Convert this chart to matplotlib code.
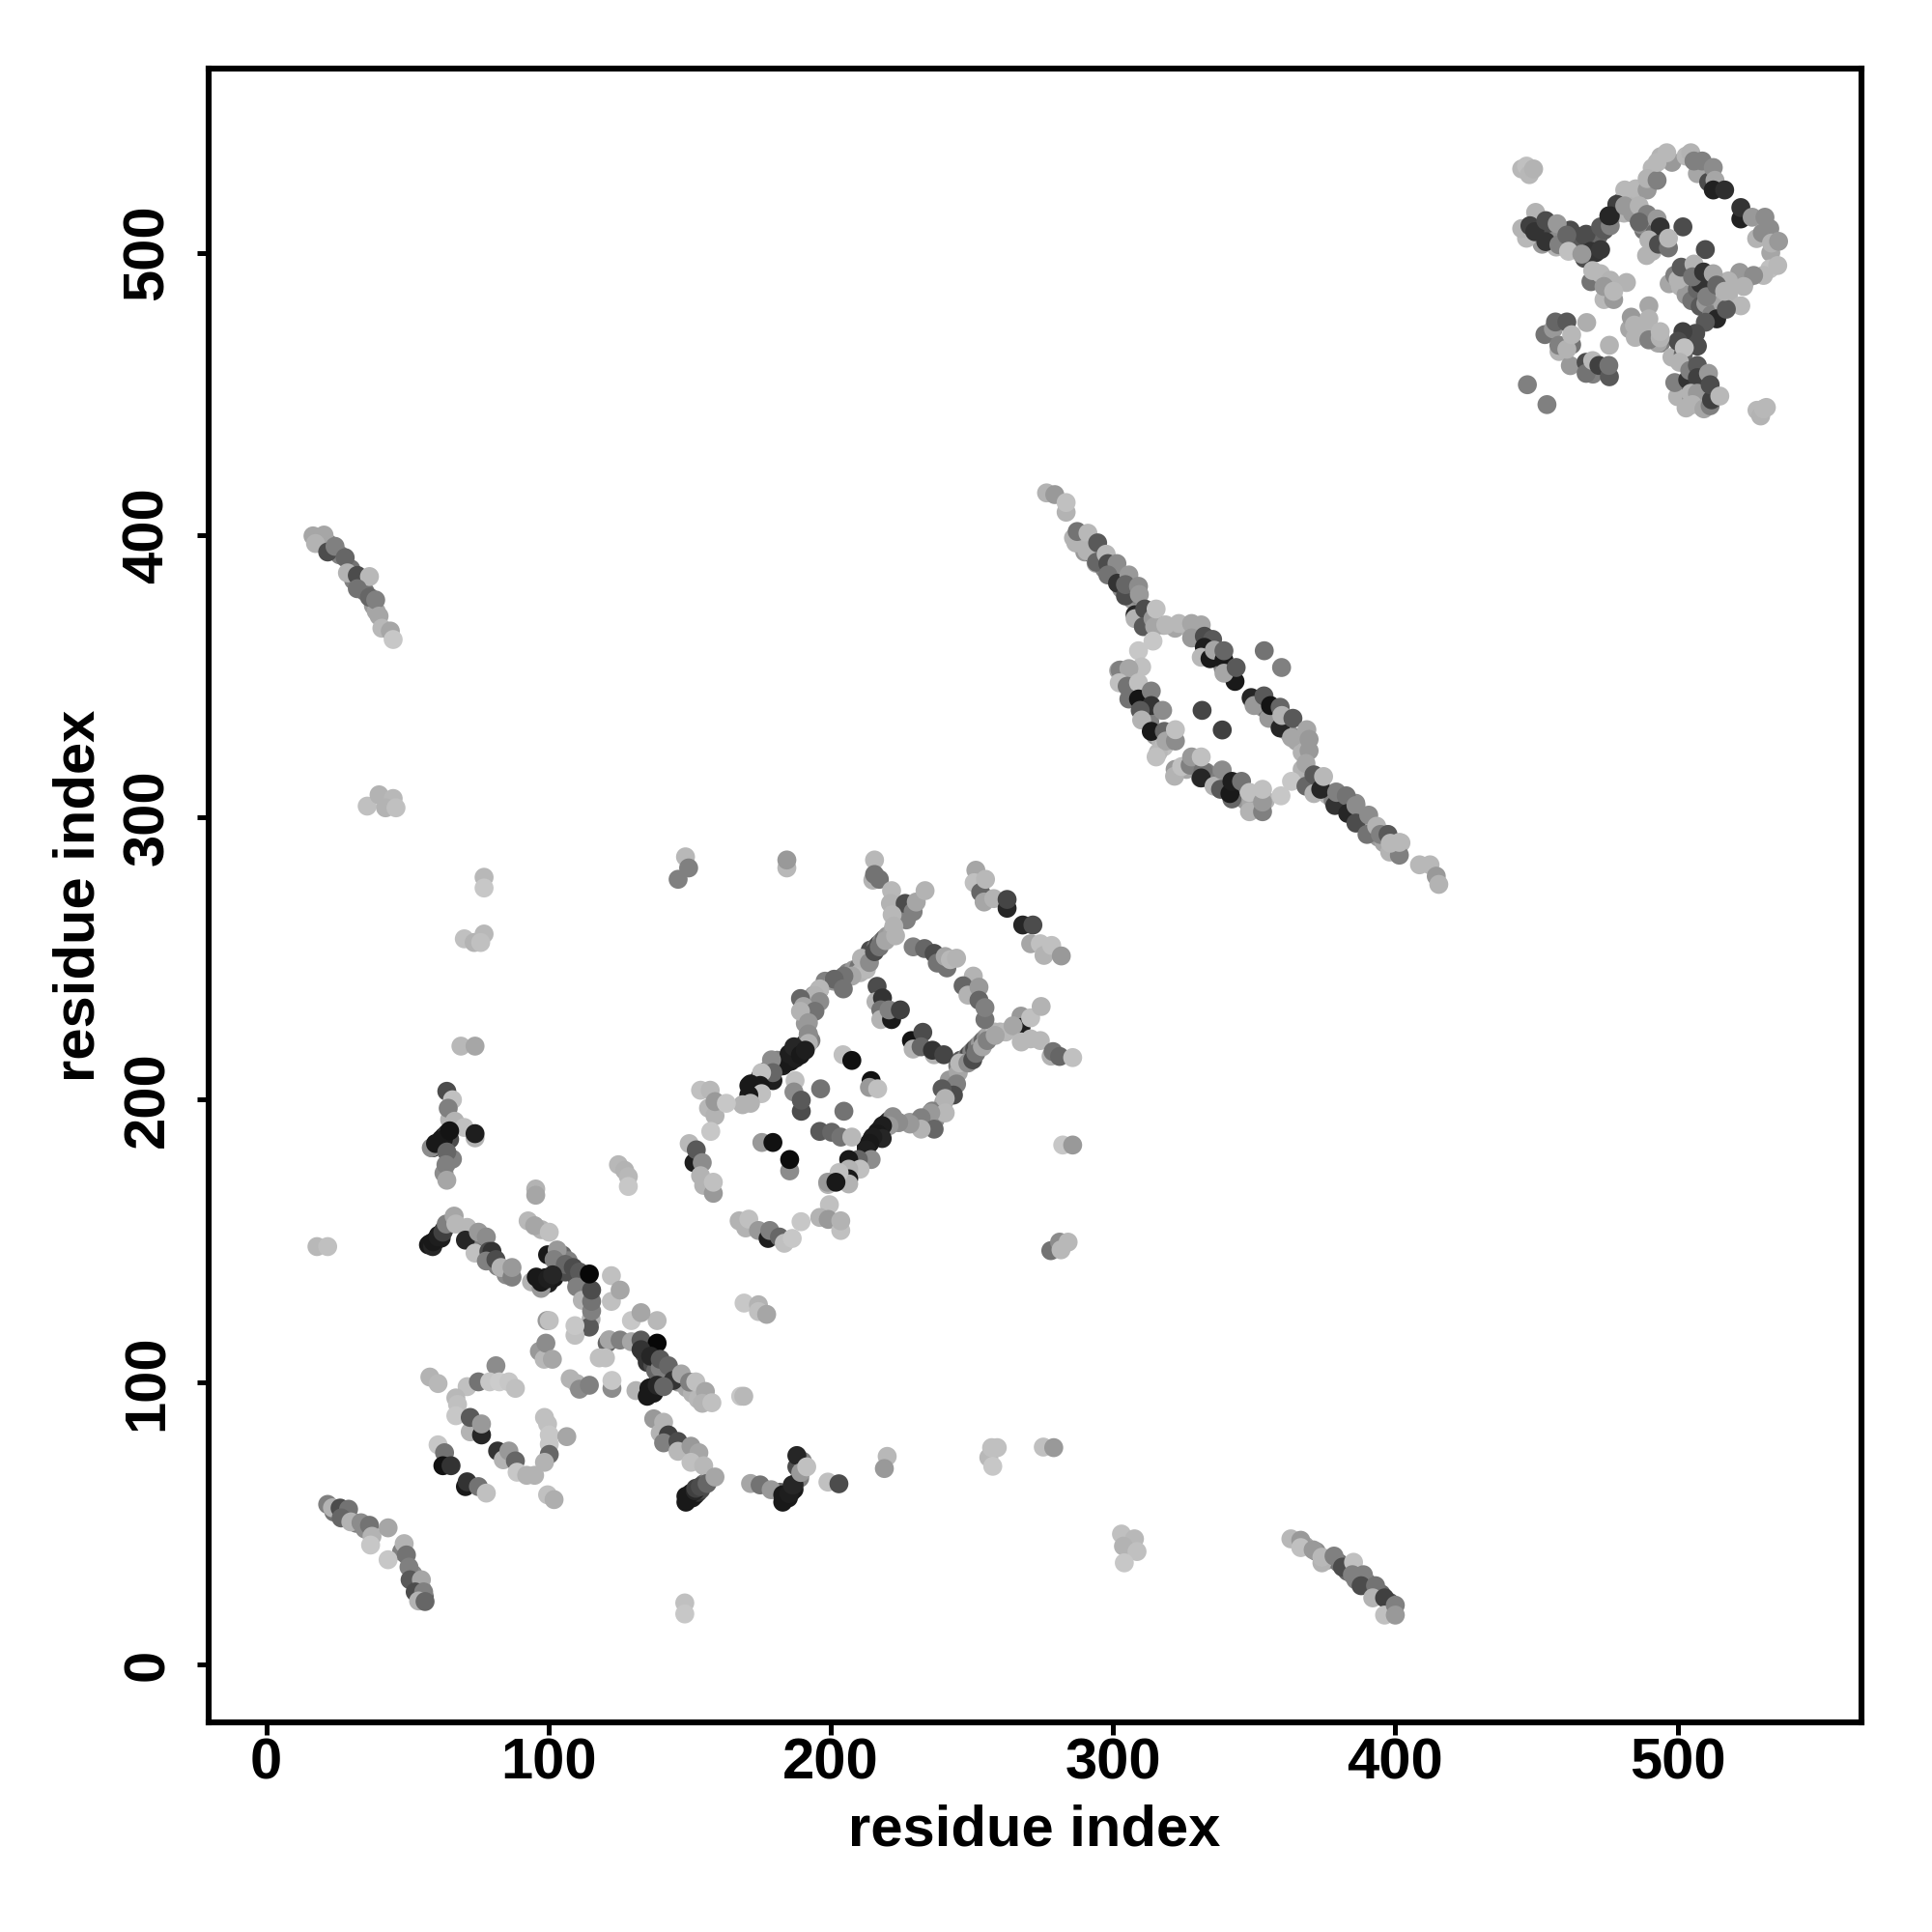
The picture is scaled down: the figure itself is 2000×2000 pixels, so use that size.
import matplotlib
matplotlib.use("Agg")
import matplotlib.pyplot as plt
import numpy as np

# (x, y, grey), cluster by cluster

domain3 = [
    (441.8,530,.72),(443.5,531,.75),(444.5,528,.72),(446,530,.7),
    (443.5,505.6,.72),(441.8,509,.7),(446.7,514.7,.7),(444.7,510,.25),(446.4,507.9,.2),
    (450.3,511.8,.3),(450.3,504.4,.2),(454.3,510.7,.6),(454.9,503.3,.5),(457.7,506.7,.4),
    (458.3,501,.75),(464.5,507,.3),(469.6,509.6,.35),(473,510,.5),(472.5,513.5,.15),
    (466.2,501,.2),(469.6,501.6,.22),(463,500,.6),
    (478.1,522.6,.72),(482,523,.72),(486,522.6,.6),(486,526.6,.7),(489.5,526,.5),
    (489.5,532.3,.72),(492.9,535.7,.72),(499.7,534.5,.72),(501.4,535.7,.7),(502.5,532.8,.5),
    (505.4,532.8,.5),(509.3,530.5,.55),(509.9,526,.65),(509.3,522.6,.13),(513.3,522.6,.18),
    (519,512.4,.13),(519,516.4,.2),(523,513,.6),(527.5,513,.55),(529.2,509,.55),
    (529.8,503.9,.7),(532.3,504.5,.6),(529.2,494.8,.75),(532,496,.72),(527,492.5,.72),
    (523.5,492.5,.55),(520,488.6,.7),(519,481.8,.72),(510.5,477.2,.15),(513.9,480.6,.35),
    (506.5,476,.35),(503.1,472.1,.3),(503.7,467.6,.3),(498.6,472.7,.25),(496.9,469.3,.3),
    (499.1,467,.75),
    (498.6,509.6,.3),(506.5,501.6,.3),
    (496.9,491,.7),(498,495.4,.35),(502.5,496.5,.7),(504.8,489.7,.2),(502,492,.45),
    (505.9,493.7,.2),(509.3,493.1,.65),(507,485,.5),(510.5,489.1,.4),(513.3,486.9,.7),
    (475.3,517.5,.25),(473,513.5,.15),(478.1,517,.6),(483.2,517,.7),(486,514,.5),
    (483.2,511.3,.4),(489.5,512.4,.6),(490.6,509.6,.2),(486.6,505,.7),(487.8,501,.7),
    (490,503.5,.3),(493.5,502.2,.45),(493.5,505.6,.72),
    (466.2,490.3,.45),(466.8,494.2,.72),(469.6,493.1,.72),(473,490.8,.7),(478.7,490,.7),
    (470.8,484,.72),(474.2,484,.6),(470.8,488.6,.6),(474.2,486.9,.72),
    (480.4,477.8,.6),(481.5,475,.7),(486.6,481.8,.65),(486.6,477.2,.7),(486.6,469.8,.5),
    (490.6,470.5,.7),(490.6,472.7,.72),
    (453.7,476.1,.4),(457.7,476.1,.35),(464.7,475.9,.68),(454.9,467.9,.5),(459.4,468.1,.45),
    (457.7,466.5,.7),(459.4,471.6,.72),(472.7,467.9,.7),
    (464.5,461.9,.3),(464.5,458,.45),(466.8,462.5,.72),(469,460.8,.25),(472.7,456.8,.35),
    (472.5,460.8,.45),
    (497.4,461.9,.7),(500.3,455.7,.2),(501,459,.5),(503.7,460.8,.35),(503.7,456.5,.25),
    (507.6,458,.6),(501.4,451,.7),(503.7,451,.6),(502,447,.7),(506,445.5,.65),
    (508.2,446.6,.5),(508.7,448.7,.25),(508.2,454,.3),(511.6,450,.72),
    (443.8,454,.5),(450.7,447,.5),
    (524.7,445,.72),(526,443,.7),(527,445.5,.72),(528,446,.72),
]

domain2 = [
    (274.4,415.9,.7),(277.3,415.3,.6),(281.3,409.1,.7),(281.3,412.5,.75),
    (284.7,398.3,.7),(285.2,402.3,.45),(289,401.7,.72),(288.6,395.5,.7),(292.4,398.3,.35),
    (292,391.5,.4),(295.4,394.3,.72),(296,391,.3),(299.2,391,.55),(296,387,.45),
    (299.4,384.1,.2),(303.4,387,.6),(302.2,379.6,.3),(302.2,383.6,.4),(306.8,383,.55),
    (307.1,380.1,.6),(305.6,373,.15),(305.6,371.6,.7),(309,375,.3),(308.5,368.8,.35),
    (311.9,371.6,.6),(312.5,368.8,.65),(313,375,.75),(316.4,369.4,.72),(321,369.9,.72),
    (325.5,369.9,.65),(328.9,369.4,.65),(325.5,364.8,.6),(330,365.4,.3),(332.9,364.3,.35),
    (330,361.5,.12),(328.9,358,.72),(332,357.5,.1),(333.5,360.5,.65),(336.9,357,.1),
    (336.9,360.3,.4),(340.8,349.5,.1),(336.9,352.4,.65),(341.2,354.4,.35),
    (351.1,360.3,.45),(357.2,354.4,.5),(329.2,339.3,.27),(336.3,332.4,.25),
    (346.5,343.8,.15),(347.5,341,.6),(351,344.4,.35),(352.7,336.5,.6),(353.3,341,.08),
    (356.7,333.1,.15),(356.7,340.4,.4),(357.3,337.5,.7),(361.2,336.5,.35),(360.7,329.7,.65),
    (366.1,332.5,.65),(366.9,329.1,.6),(366.9,325.1,.6),(365.8,320.6,.65),
    (311.9,363.7,.78),(306.8,360.3,.78),(307.9,354.6,.75),(300.3,353.5,.5),(303.4,354,.65),
    (300,349,.75),(302.8,347.8,.45),(306.8,349,.75),(303.4,343.3,.45),(306.8,343.3,.08),
    (311.3,346.1,.5),(311.3,341,.2),(307.4,339.3,.35),(307.9,335.9,.7),(315.3,339.3,.55),
    (311.3,331.9,.1),(315.9,331.9,.4),(316.5,328.5,.65),(319.8,328.5,.55),(319.8,332.5,.75),
    (313,322.9,.75),(319.5,316.1,.7),(322,319.5,.75),(325,320,.5),(325.5,322.9,.6),
    (329.5,318,.45),(328.9,315.5,.15),(328.9,322.9,.75),(333.4,312.6,.7),(336.3,318.3,.55),
    (335.7,311.5,.35),(339.7,308.1,.4),(339,310,.1),(339.7,314.3,.12),(343.1,314.3,.45),
    (345.9,303.6,.7),(345.9,310.4,.75),(350.5,303.6,.5),(350.5,307,.6),(350.5,311.5,.75),
    (357,309.2,.78),(360.7,314.3,.78),
    (365.8,312.6,.4),(368.6,316.6,.35),(368.6,310,.7),(371,311.5,.15),(372,316,.72),
    (376,305.8,.2),(376.6,310.4,.5),(380,309.2,.45),(380.5,303,.15),(383.4,305.8,.55),
    (383.4,299.6,.3),(387.9,302.4,.55),(387.3,295.6,.45),(390.7,298.5,.7),(392,295.6,.5),
    (394.7,295.6,.35),(395.3,289.4,.7),(398.7,288.3,.5),(395.5,292.5,.72),(398.7,292.8,.72),
    (405.8,284.9,.72),(409.5,284.9,.72),(411.7,280.9,.6),(412.6,278,.7),
]

domain1 = [
    (147.2,287.7,.72),(148.3,283.8,.5),(144.6,279.8,.5),
    (182.9,283.8,.72),(182.9,286.6,.6),
    (213.8,286.6,.72),(213.2,279.5,.7),(213.8,281.5,.45),(215.5,279.8,.45),
    (219.8,275.8,.72),(219.4,271.3,.7),(224,267.3,.2),(225,265.5,.5),(224.6,271.3,.3),
    (227.4,268.4,.5),(228.5,271.8,.65),(231.6,275.8,.7),(220,267.3,.72),(220.6,263.3,.7),
    (208.7,246.9,.7),(210.9,248,.72),(209.2,252,.7),(212,250.5,.55),(213.8,254.3,.3),
    (215.5,256,.45),(217.7,258.2,.65),(221.2,259.9,.7),
    (205.8,245.7,.65),(203,245.7,.45),(199.6,244.6,.4),(202.8,241.2,.45),(194.5,241.2,.72),
    (192.8,238.9,.7),(194.5,236.7,.55),(187.7,237.8,.4),(188.8,235,.65),(192.8,233.3,.45),
    (187.7,233.3,.7),(190.5,229.3,.6),(190.5,225.3,.55),(190.5,222,.7),
    (182.6,215.1,.1),(184.3,215.7,.1),(186,216.8,.12),(183.7,218.3,.12),(185.4,220.8,.15),
    (187.7,217.9,.1),(189.4,219.6,.12),
    (177.5,216.2,.55),(178,208.9,.12),(178,211.7,.4),(174,211.7,.75),(173.5,207.2,.1),
    (170.1,207.7,.1),(174,204.3,.75),(169.5,203.8,.1),(170.1,200.9,.7),(167.3,200.4,.7),
    (185.8,208.9,.75),(185.4,204.9,.55),(188,198.1,.3),(188,202,.35),
    (152.5,205.5,.75),(155.9,205.5,.72),(155.3,199.2,.72),(157.6,196.5,.7),(157.6,201.5,.6),
    (161.6,200.9,.78),
    (156.1,191,.78),(148.5,186.7,.72),(150.2,180,.12),(151,184.5,.35),(153.1,180,.55),
    (152.5,175.4,.7),(153.6,172,.7),(157,169.2,.6),(157,173.1,.75),
    (202.7,218,.75),(205.8,216,.07),(212.6,208.9,.07),(212,206.5,.6),(214.9,206,.75),
    (194.8,206,.45),(203,198.1,.45),(174.1,187.1,.6),(178,187.1,.07),
    (183.9,177.1,.55),(183.9,181.1,.05),
    (194.5,191,.35),(198.7,190.7,.4),(201.9,189,.45),(205.8,189,.72),
    (214.7,242.1,.3),(214.3,236.7,.7),(216.6,238,.2),(216,233.8,.45),(216,230.4,.7),
    (219.8,230.4,.1),(218.9,233.8,.5),(222.9,233.8,.25),
    (226.8,223,.08),(227.4,220,.7),(230.8,225.9,.3),(230.2,220.8,.4),(234.8,218,.7),
    (234.2,219.6,.2),(238.2,218,.27),
    (227.4,256,.5),(231.4,255.4,.4),(234.8,253.7,.3),(235.9,250.3,.45),(239.3,248.6,.45),
    (238.7,252.6,.65),(240.5,251.5,.72),(242.7,252,.7),
    (248.6,245.7,.7),(245,242.3,.4),(246.7,239,.7),(250.6,241.8,.6),(250.6,237.2,.4),
    (252.7,230.4,.45),(252.7,234.6,.5),
    (249.5,283,.65),(248.9,278.6,.75),(251.2,275.2,.4),(252.9,279.8,.72),(252.4,271.8,.65),
    (255.8,273,.7),(260.5,269.6,.15),(260.5,272.7,.27),(266,263.7,.15),(269.6,263.7,.3),
    (268.8,257.1,.65),(272.2,257.1,.75),(273.5,253,.7),(276.2,256.5,.75),(279.6,252.8,.6),
    (265.4,231.6,.6),(265.4,227.6,.12),(262.6,228.2,.65),(268.8,231,.75),(272.5,235,.7),
    (265.5,222.5,.72),(268.8,223.6,.72),(272.2,223,.72),(276,217.5,.7),(276.7,219.1,.45),
    (279,217.4,.4),(283.6,217,.75),
    (243.3,211.7,.65),(243.8,215.1,.72),(246.7,215.1,.55),(248.4,216.2,.3),(249.5,218.5,.45),
    (251.8,220.8,.65),(253.5,223,.5),(256.3,224.8,.65),
    (242.7,207.7,.5),(241.6,203.8,.3),(237.6,206,.35),(238.7,202.6,.7),(238.7,197.5,.72),
    (233.6,197.5,.6),(230.2,195.8,.5),(234.8,191.8,.4),(230.2,191.8,.7),(226.3,193.6,.6),
    (222.3,194.1,.55),
    (218.9,193,.6),(216.6,193,.12),(214.9,190.1,.1),(216.5,188.5,.15),(213.2,189,.12),
    (212.1,186.8,.1),(210.9,184.5,.12),(212.6,181.1,.55),(208.1,181.1,.4),(204.7,181.1,.1),
    (208.7,177.7,.75),(204.7,177.7,.7),(204.7,174.3,.1),(204.7,172.5,.7),(201.3,176.5,.75),
    (197.3,173.1,.6),(200.2,173.1,.1),
    (197.9,165.2,.75),(194.5,160.7,.7),(197.5,160,.6),(201.9,156.1,.75),(201.9,159.5,.7),
    (187.9,159.2,.78),
    (166.1,159.5,.7),(168.4,157,.7),(169.5,160.1,.75),(172.9,156.1,.6),(176.3,153.3,.12),
    (176.9,156.1,.5),(180.3,153.8,.4),(182,151.6,.75),(184.8,153.3,.78),
    (280.1,186.2,.78),(283.6,186.2,.6),
    (275.9,149,.45),(279,152,.55),(282,152,.72),(279.5,149.3,.72),
]

# read on the true tick scale
loop_left = [
    (58,101.8,.7),(60.9,99.5,.72),
    (57.5,148.6,.1),(59,148,.15),(59.2,149.7,.1),(60.9,151.4,.12),(62.6,153.1,.25),
    (63.8,156,.5),(66.6,158.8,.65),(67.2,156,.72),(71.2,154.8,.72),(70.6,150.3,.15),
    (75.2,153.1,.6),(74,145.7,.75),(78,151.4,.55),(78.9,146.3,.3),(80,146.3,.2),
    (78,142.9,.5),(81.4,143.4,.3),(83.2,140.6,.7),(87.1,137.2,.5),(87.1,140.6,.6),
    (92.8,157.1,.72),(97.5,154,.7),(95.1,155.4,.65),(100.3,153.1,.75),(99.7,145.1,.1),
    (103.1,146.8,.6),(102,143.4,.5),(106,141.7,.4),(108.8,140.6,.3),(111,139,.35),
    (94,135.5,.7),(97.4,133.2,.6),(95.7,137.2,.1),(97.4,135.4,.1),(99.7,136.6,.12),
    (101.5,138,.15),
    (110,133.7,.5),(112,129,.7),(115.1,122.3,.7),(114.5,119.5,.35),(115.3,125.2,.5),
    (115.3,128.6,.45),(115.3,132.6,.3),(114.5,138.3,.03),
    (122.3,128.6,.75),(122.3,137.7,.75),(125.4,132.6,.65),
    (129.4,121.8,.78),(138.5,121.8,.72),(132.8,124.6,.65),
    (169.3,128,.78),(174.4,127.4,.7),(174.4,125,.75),(177.3,124,.65),
    (99.5,121.8,.6),(100.3,121.8,.75),(109.4,116.6,.75),(109.4,120,.78),
    (120.8,113.8,.4),(121.5,115,.65),(125.4,114.9,.5),(129.4,114.3,.65),(132.8,114.9,.35),
    (138.5,113.8,.03),(118,108.6,.75),(120.2,108.6,.75),
    (132.8,111.5,.2),(136.2,109.2,.15),(139.6,105,.5),(139.6,108.1,.35),(142.5,105.8,.4),
    (144.2,100.6,.2),(147.1,102.9,.65),(150,100,.5),(152.2,100.1,.75),(155.6,96.7,.65),
    (154.5,92.5,.7),(157.9,92.7,.75),
    (131,97,.7),(135,95,.1),(135.6,97.8,.1),(137.3,96.1,.1),(138.5,98.9,.15),(140.8,98.4,.4),
    (168.1,95,.78),(169.2,95,.72),
    (122.5,97.8,.55),(122.5,100.6,.78),
    (96.8,110.9,.6),(98.5,108.1,.72),(99.1,113.8,.55),(101.4,108.1,.65),
    (81.4,105.8,.55),(71.2,98.4,.75),(75.2,100.1,.45),(79.2,100.1,.78),(82.6,100.1,.8),
    (86,100.1,.78),(88.3,97.8,.75),
    (107.7,101.2,.7),(110,99.5,.7),(111,97.5,.55),(114.5,98.9,.5),
    (67.2,94.4,.72),(67.8,92.1,.75),(67.2,88.1,.78),(72.3,82.4,.7),(76.3,81.3,.15),
    (72.3,87.5,.35),(76.3,85.2,.6),
    (98.6,87.5,.75),(99.7,85.2,.75),(100.3,81.3,.78),(106.5,80.7,.65),(100.3,78,.78),
    (100.3,74.4,.4),(98.6,71.6,.7),
    (82,75.6,.2),(84,72.5,.7),(86,75.6,.6),(88.3,72.1,.4),(88.9,68.1,.78),(92.3,67,.7),
    (95.1,67,.7),
    (60.9,77.8,.78),(63.2,75,.45),(62.6,70.4,.07),(65.5,70.4,.2),
    (70.6,63,.1),(71.2,64.7,.2),(75.2,63,.45),(78,60.7,.75),
    (99.7,60.1,.75),(102,58.4,.68),
    (137.3,87,.6),(140.8,85.8,.7),(139.6,82,.7),(142.5,81.3,.25),(140.8,78.5,.5),
    (145.9,79,.3),(145.9,75.5,.72),(150.5,77.3,.6),(153.3,75,.65),(150.5,71.6,.75),
    (155,70.4,.72),
    (148.7,57.5,.1),(148.7,59.6,.1),(150.5,60.7,.1),(152,61.5,.15),(152.2,62.4,.25),
    (153.8,63,.3),(156.2,64.1,.4),(159,66.4,.65),
    (171.6,64.1,.65),(175,63.6,.45),(178.9,61.9,.6),(183,57.5,.1),(183,60.1,.1),
    (185.2,60.5,.12),(187,63.7,.15),(186.4,63.6,.15),(188,74,.15),(189.4,68,.6),
    (191.5,70,.75),(199,64.6,.75),(202.9,64,.3),
    (220,73.7,.72),(219,69.4,.6),
    (256,73.3,.72),(257,76.8,.75),(259,76.8,.75),(257.4,70.2,.78),
    (275.3,77,.75),(279,76.8,.6),
    (303,46.2,.75),(307.6,44.5,.72),(303.7,41.9,.7),(308.5,40,.75),(304,36,.78),
    (148.3,21.8,.75),(148.3,17.9,.78),
]

arc_lower_left = [
    (21.8,56.7,.5),(23.5,55.5,.7),(26.2,55.4,.3),(29.2,55,.45),(26.6,51.9,.4),(30,50.5,.7),
    (33.6,50.2,.55),(36.6,49.3,.45),(37.5,45.4,.7),(43.2,48.4,.65),(37,42.3,.78),(43.2,37.1,.78),
    (48.9,42.8,.7),(49.7,38.8,.45),(50.6,34.5,.5),(51,30,.35),(55,30,.65),(52.8,25.7,.3),
    (55.8,25.7,.5),(54,22.5,.7),(56.3,22.3,.4),
]

arc_upper_left = [
    (16.6,399.7,.65),(20.5,400,.65),(17.5,397,.7),(21.8,394,.3),(24.4,396,.5),(28,392,.4),
    (28.8,386.6,.7),(32.3,385.7,.3),(36.6,385.3,.72),(32.3,381,.45),(36.6,378,.4),(38.8,377,.5),
    (40,371.3,.65),(41,367,.72),(44,366,.65),(45,363,.78),
]

scattered_left = [
    (35.8,304,.75),(40,308,.7),(45,306.7,.72),(42.3,303.4,.7),(46,303.4,.75),
    (77.2,278.8,.72),(77.2,275,.78),
    (70.2,257,.75),(73.7,255.7,.7),(77.2,258.7,.72),(76,255.7,.75),
    (69,219,.72),(74,219,.65),
    (64,203,.3),(66,200,.75),(64.5,197,.5),(66.8,192.4,.7),(70.2,190.2,.75),
    (74,186.5,.7),(74,188,.12),(58.5,183,.55),(60,184.5,.1),(62.8,186,.1),(65,189,.08),
    (64,181.5,.4),(63.7,177,.5),(64,171.5,.65),
    (18,148,.72),(21.8,148,.75),
    (95.5,168.4,.7),(95.5,166.2,.65),
    (124.8,177,.72),(127,175,.7),(128.3,172.8,.72),(128.3,169.3,.78),
]

arc_lower_right = [
    (363,44.5,.72),(366.5,44,.6),(366.5,41.4,.75),(370.9,40.6,.6),(374,36,.7),(374,38,.72),
    (378.3,38.4,.5),(381.3,34.5,.3),(385.2,36.2,.75),(384.8,31.8,.5),(388.7,31.8,.5),
    (387.9,27.9,.3),(393,27.9,.45),(392,23.6,.7),(396.2,23.6,.25),(396.2,17.5,.75),
    (400,21,.5),(400,17.5,.6),
]

# the overplotted bands, drawn first so the lists above sit on them
bands_domain2 = [
    (286,399,.7),(288,397,.5),(290,394,.6),(291,396,.7),(293,393,.45),(294,390,.65),(296,393,.55),
    (297,388,.5),(299,387,.6),(300,389,.55),(301,385,.5),(303,381,.55),(304,384,.6),(305,379,.45),
    (307,377,.6),(308,379,.5),(309,372,.7),(311,373,.55),(313,368,.6),
    (372,312,.6),(374,310,.5),(376,308,.7),(378,306,.5),(379,309,.55),(381,305,.4),(383,303,.6),
    (385,302,.5),(386,305,.55),(388,299,.6),(390,297,.5),(392,296,.7),(394,293,.6),(396,291,.65),
    (397,294,.7),(399,289,.6),(401,288,.7),(402,291,.72),
    (331,363,.45),(333,361,.5),(335,358,.35),(337,356,.6),(339,353,.5),(341,351,.55),
    (349,342,.5),(351,340,.4),(353,339,.6),(355,337,.45),(357,335,.55),(359,333,.4),(361,331,.6),
    (363,329,.55),(365,327,.65),(367,323,.7),(367,317,.7),
    (302,352,.65),(304,350,.6),(306,346,.55),(308,344,.4),(309,341,.5),(310,338,.45),(312,336,.6),
    (313,334,.5),(315,329,.6),(317,327,.7),(318,325,.75),(316,323,.72),
    (322,317,.6),(326,317,.65),(331,314,.55),(333,316,.5),(336,313,.5),(338,311,.55),(341,309,.45),
    (343,307,.5),(344,311,.6),(347,306,.6),(349,305,.65),(352,303,.72),(354,306,.7),
    (318,368,.7),(322,367,.65),(327,367,.7),
]

bands_domain3 = [
    (447,506,.6),(449,508,.4),(451,507,.65),(452,503,.6),(453,506,.3),(456,504,.55),(457,502,.7),
    (460,503,.72),(462,504,.4),(462,508,.3),(465,503,.35),(467,506,.3),(467,498,.3),(470,503,.25),
    (472,506,.4),(474,508,.35),(471,500,.2),(476,513,.4),(478,514,.55),(480,518,.5),(481,514,.7),
    (484,514,.6),(488,508,.45),(487,510,.55),(492,507,.4),(491,503,.55),(489,499,.7),
    (497,489,.65),(499,492,.5),(501,488,.7),(503,485,.6),(505,483,.45),(507,487,.4),(508,481,.35),
    (510,482,.6),(512,478,.5),(516,482,.65),(518,485,.7),(524,490,.7),
    (494,468,.5),(498,463,.7),(502,464,.4),(500,449,.7),(504,454,.3),(505,448,.5),(506,450,.25),
    (509,445,.65),(503,445,.7),(499,454,.5),(511,447,.5),
    (483,473,.65),(485,470,.7),(488,473,.7),(493,468,.65),
    (453,471,.45),(456,473,.6),(458,465,.7),(462,460,.6),(468,458,.6),(470,457,.5),
    (484,520,.7),(491,530,.72),(494,534,.7),(498,532,.6),(507,528,.65),(511,525,.3),
    (528,505,.7),(530,507,.55),(533,500,.65),(522,493,.6),(518,490,.7),
]

bands_domain1 = [
    (183,212,.12),(184,213,.15),(185,214,.1),(186,215,.12),(187,216,.1),(188,217,.1),(189,218,.12),
    (190,219,.1),(191,220,.15),(192,221,.4),
    (212.6,183.4,.1),(213.5,184.5,.1),(214.5,186,.12),(215.5,187,.1),(216.5,188.5,.1),
    (217.5,189.5,.12),(218.5,190.5,.1),(219.5,191.5,.12),(220.6,192.5,.15),(222,194,.55),
    (206,245,.5),(208,246,.6),(210,247,.45),(212,249,.35),(213,251,.5),(214,253,.3),(216,254,.45),
    (217,255,.3),(218,256,.55),(219,257,.4),(220,258,.6),(222,260,.65),(198,242,.5),(201,242,.6),
    (196,239,.55),(194,237,.6),(192,232,.6),(191,227,.6),(192,223,.55),(193,221,.5),
    (245,212,.5),(246,214,.35),(248,215,.55),(249,216,.3),(250,217,.5),(251,218,.3),(252,219,.45),
    (253,220,.6),(254,221,.4),(255,222,.55),(256,223,.65),(258,224,.7),(260,224,.7),(262,224,.72),
    (242,207,.6),(243,204,.5),(241,201,.4),(240,199,.65),(236,196,.5),(237,193,.55),(232,192,.45),
    (228,192,.6),(224,192,.55),
    (206,175,.1),(204,172,.65),(201,171,.1),(199,170,.7),(207,178,.1),(208,175,.7),
    (171,205,.1),(173,206,.7),(172,202,.1),(175,208,.15),(177,210,.2),(179,210,.4),(181,214,.5),
]

bands_loop = [
    (58,149,.1),(60,150,.1),(61,152,.1),(62,151,.12),(63,154,.2),
    (96,136,.1),(98,134,.1),(99,137,.1),(100,135,.12),(102,137,.1),(103,139,.2),
    (104,143,.45),(105,145,.4),(107,143,.5),(109,140,.35),(110,137,.4),(112,136,.3),(113,134,.5),
    (106,139,.3),
    (136,98,.1),(137,97,.1),(138,99,.1),(139,100,.12),(135,97,.1),
    (134,110,.3),(135,107,.2),(137,106,.3),(138,104,.4),(141,103,.4),(143,101,.5),(146,100,.6),
    (149,98,.65),(151,96,.7),(153,94,.72),
    (149,58,.1),(150,59,.1),(151,59,.12),(152,60,.1),(153,61,.2),(154,62,.3),(155,64,.4),(157,66,.5),
    (184,60,.1),(185,59,.1),(186,61,.12),(187,62,.1),(182,61,.4),(188,70,.3),(189,66,.5),(190,72,.5),
    (59,183,.1),(61,184,.1),(62,186,.12),(63,187,.1),(64,188,.2),(65,186,.3),
    (65,193,.7),(66,179,.5),(63,174,.55),
    (72,152,.7),(74,150,.5),(76,148,.5),(77,146,.4),(79,144,.3),(82,141,.5),(84,140,.65),(85,138,.55),
]

bands_arcs = [
    (24,54,.45),(28,53,.4),(32,50,.5),(35,48,.55),(48,40,.5),(52,32,.55),(53,28,.45),(55,27,.4),(56,24,.35),
    (18,398,.6),(22,397,.5),(26,393,.5),(30,388,.45),(31,384,.5),(34,383,.4),(35,380,.45),(38,375,.6),(39,373,.65),
    (368,42,.65),(372,40,.55),(376,37,.6),(380,36,.45),(383,33,.4),(386,30,.5),(390,29,.45),(395,25,.4),
    (398,22,.35),(399,18,.7),
]

x_ticks = [0, 100, 200, 300, 400, 500]
y_ticks = [0, 100, 200, 300, 400, 500]
x_label = "residue index"
y_label = "residue index"


def recal(points):
    # those crops were read with 2.938 px per unit, the ticks say 2.922
    pts = np.array(points)
    pts[:, 0] = pts[:, 0] * 1.00548 + 0.55
    pts[:, 1] = pts[:, 1] * 1.00548 - 3.25
    return pts


plt.rcParams["font.family"] = ["Liberation Sans", "DejaVu Sans"]
plt.rcParams["font.weight"] = "bold"

fig = plt.figure(figsize=(10, 10), dpi=200)
ax = fig.add_axes([0.1078, 0.1085, 0.8555, 0.856])

clusters = [
    np.array(bands_domain2), np.array(bands_domain3), np.array(bands_domain1),
    np.array(bands_loop), np.array(bands_arcs),
    recal(domain3), recal(domain2), recal(domain1),
    np.array(loop_left), np.array(arc_lower_left), np.array(arc_upper_left),
    np.array(scattered_left), np.array(arc_lower_right),
]
for pts in clusters:
    ax.scatter(pts[:, 0], pts[:, 1], c=pts[:, 2], cmap="gray", vmin=0, vmax=1,
               s=50, linewidths=0, zorder=3)

ax.set_xlim(-20.5, 565)
ax.set_ylim(-20.5, 565.2)
ax.set_xticks(x_ticks)
ax.set_yticks(y_ticks)
ax.tick_params(axis="both", length=4.5, width=1.8, labelsize=21.5)
ax.tick_params(axis="x", pad=1)
ax.tick_params(axis="y", pad=8)
for lab in ax.get_yticklabels():
    lab.set_rotation(90)
    lab.set_va("center")
ax.set_xlabel(x_label, fontsize=21.5, fontweight="bold", labelpad=5)
ax.set_ylabel(y_label, fontsize=21.5, fontweight="bold", labelpad=6)
for sp in ax.spines.values():
    sp.set_linewidth(2.2)

fig.savefig("out.png", dpi=200)
